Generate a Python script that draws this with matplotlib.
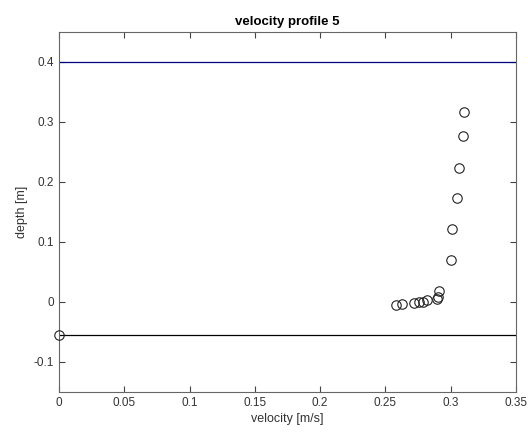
import numpy as np
import matplotlib
matplotlib.use("Agg")
import matplotlib.pyplot as plt

# measured points: velocity [m/s] vs depth [m]
velocity = [0.0, 0.2583, 0.2629, 0.2721, 0.2760, 0.2790, 0.2820, 0.2893, 0.2905, 0.2913,
            0.3000, 0.3007, 0.3048, 0.3061, 0.3097, 0.3104]
depth = [-0.0552, -0.0055, -0.0040, -0.0020, -0.0005, 0.0005, 0.0033, 0.0045, 0.0080, 0.0190,
         0.0692, 0.1217, 0.1729, 0.2237, 0.2767, 0.3168]
surface_level = 0.4
bed_level = -0.0552

xticks = [0, 0.05, 0.1, 0.15, 0.2, 0.25, 0.3, 0.35]
yticks = [-0.1, 0, 0.1, 0.2, 0.3, 0.4]

plt.rcParams['font.family'] = ['Liberation Sans', 'DejaVu Sans']

fig = plt.figure(figsize=(5.3, 4.34), dpi=100)
ax = fig.add_axes([0.1113, 0.0968, 0.8623, 0.8295])

ax.axhline(surface_level, color='#000080', lw=0.9)
ax.axhline(bed_level, color='black', lw=0.9)
ax.plot(velocity, depth, 'o', mfc='none', mec='#222222', ms=6.8, mew=0.8,
        clip_on=False, zorder=3)

ax.set_xlim(0, 0.35)
ax.set_ylim(-0.15, 0.45)
ax.set_xticks(xticks)
ax.set_xticklabels(['0', '0.05', '0.1', '0.15', '0.2', '0.25', '0.3', '0.35'])
ax.set_yticks(yticks)
ax.set_yticklabels(['-0.1', '0', '0.1', '0.2', '0.3', '0.4'])
ax.tick_params(direction='in', top=True, right=True, length=4, width=0.8,
               colors='#444444', labelsize=8.5, labelcolor='#333333')
for s in ax.spines.values():
    s.set_color('#666666')
    s.set_linewidth(0.8)

ax.set_xlabel('velocity [m/s]', fontsize=9, color='#333333', labelpad=3)
ax.set_ylabel('depth [m]', fontsize=9, color='#333333', labelpad=4)
ax.set_title('velocity profile 5', fontsize=9.5, fontweight='bold', pad=5)

fig.savefig('out.png', dpi=100)
